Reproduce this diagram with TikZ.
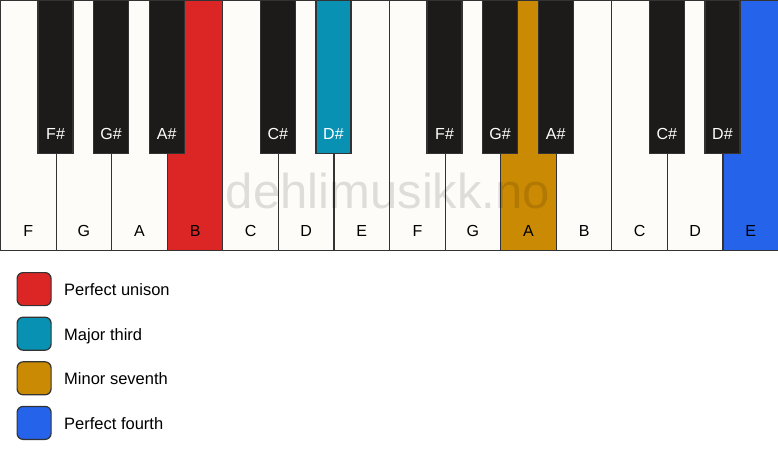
\documentclass[tikz,border=0pt]{standalone}
\usepackage{fontspec}
\setmainfont{Liberation Sans}
\definecolor{keywhite}{HTML}{FDFCF8}
\definecolor{keyblack}{HTML}{1C1B19}
\definecolor{keyedge}{HTML}{333333}
\definecolor{cred}{HTML}{DC2626}
\definecolor{cteal}{HTML}{0891B2}
\definecolor{cgold}{HTML}{CA8A04}
\definecolor{cblue}{HTML}{2563EB}
\tikzset{
  whitekey/.style={draw=keyedge, line width=1.2pt, fill=keywhite, anchor=north west,
    minimum width=55.571pt, minimum height=250pt, inner sep=0pt, outer sep=0pt},
  blackkey/.style={draw=keyedge, line width=1.2pt, fill=keyblack, anchor=north,
    minimum width=35pt, minimum height=153pt, inner sep=0pt, outer sep=0pt},
  wlabel/.style={font=\fontsize{16}{19}\selectfont, text=black, inner sep=0pt},
  blabel/.style={font=\fontsize{16}{19}\selectfont, text=white, inner sep=0pt},
  legbox/.style={draw=keyedge, line width=1.2pt, rounded corners=6pt, anchor=north west,
    minimum width=34pt, minimum height=33pt, inner sep=0pt},
  legtext/.style={font=\fontsize{16.5}{19}\selectfont, anchor=base west, inner sep=0pt, text=black},
}
\begin{document}
\begin{tikzpicture}[x=1pt,y=-1pt]
\useasboundingbox[fill=white] (0,0) rectangle (778,461);
% white keys
\foreach \i/\c in {0/keywhite,1/keywhite,2/keywhite,3/cred,4/keywhite,5/keywhite,6/keywhite,
  7/keywhite,8/keywhite,9/cgold,10/keywhite,11/keywhite,12/keywhite,13/cblue}{
  \node[whitekey, fill=\c] (w\i) at (\i*55.571+0.6,0.6) {};
}
% black keys
\foreach \b/\c in {1/keyblack,2/keyblack,3/keyblack,5/keyblack,6/cteal,
  8/keyblack,9/keyblack,10/keyblack,12/keyblack,13/keyblack}{
  \node[blackkey, fill=\c] (b\b) at (\b*55.571,0.6) {};
}
% labels
\foreach \i/\n in {0/F,1/G,2/A,3/B,4/C,5/D,6/E,7/F,8/G,9/A,10/B,11/C,12/D,13/E}{
  \node[wlabel] (wl\i) at ([yshift=20pt]w\i.south) {\n};
}
\foreach \b/\n in {1/F,2/G,3/A,5/C,6/D,8/F,9/G,10/A,12/C,13/D}{
  \node[blabel] (bl\b) at ([yshift=20pt]b\b.south) {\n\#};
}
% watermark
\node[font=\fontsize{49}{50}\selectfont, text=black, text opacity=0.12, anchor=base, inner sep=0pt]
  (wm) at (388,208) {dehlimusikk.no};
% legend
\foreach \k/\c/\t in {0/cred/Perfect unison,1/cteal/Major third,2/cgold/Minor seventh,3/cblue/Perfect fourth}{
  \node[legbox, fill=\c] (lb\k) at (16.5,272+\k*44.6) {};
  \node[legtext] (lt\k) at (64,295.5+\k*44.6) {\t};
}
\end{tikzpicture}
\end{document}
